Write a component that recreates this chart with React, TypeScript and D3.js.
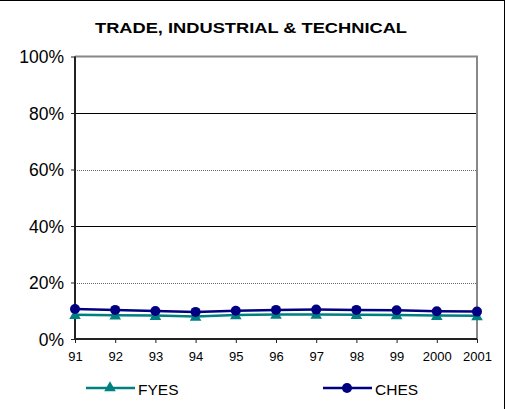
import React, { useRef, useEffect } from 'react';
import * as d3 from 'd3';

const years = ['91', '92', '93', '94', '95', '96', '97', '98', '99', '2000', '2001'];
const fyes = [8.6, 8.4, 8.3, 8.0, 8.5, 8.7, 8.7, 8.6, 8.5, 8.3, 8.2];
const ches = [10.6, 10.3, 9.9, 9.6, 10.0, 10.3, 10.4, 10.3, 10.2, 9.8, 9.7];
const yTicks = [0, 20, 40, 60, 80, 100];
const title = 'TRADE, INDUSTRIAL & TECHNICAL';

const TEAL = '#008080';
const NAVY = '#000080';

function LineChart({ width = 508, height = 409 }) {
  const ref = useRef<SVGSVGElement>(null);

  useEffect(() => {
    const svg = d3.select(ref.current);
    svg.selectAll('*').remove();

    const left = 75;
    const right = 477;
    const top = 56.5;
    const bottom = 339;
    const font = 'Arial, "Liberation Sans", sans-serif';

    const x = d3.scalePoint<string>().domain(years).range([left, right]);
    const y = d3.scaleLinear().domain([0, 100]).range([bottom, top]);

    svg.append('rect').attr('width', width).attr('height', height).attr('fill', '#fff');
    // outer frame (only top and right edge show)
    svg.append('line').attr('x1', 0).attr('x2', 504.5).attr('y1', 0.5).attr('y2', 0.5)
      .attr('stroke', '#000').attr('stroke-width', 1);
    svg.append('line').attr('x1', 504.5).attr('x2', 504.5).attr('y1', 0).attr('y2', height)
      .attr('stroke', '#000').attr('stroke-width', 1);

    // title is a bit stretched in the original
    svg.append('text')
      .attr('x', 95).attr('y', 32.5)
      .attr('textLength', 312).attr('lengthAdjust', 'spacingAndGlyphs')
      .attr('font-family', font).attr('font-weight', 'bold').attr('font-size', 15)
      .text(title);

    // gridlines, snapped to the pixel grid
    yTicks.filter((t) => t > 0 && t < 100).forEach((t) => {
      const solid = t % 40 === 0;
      const gy = Math.round(y(t)) + 0.5;
      svg.append('line')
        .attr('x1', left).attr('x2', right)
        .attr('y1', gy).attr('y2', gy)
        .attr('stroke', solid ? '#000' : '#666')
        .attr('stroke-width', 1)
        .attr('stroke-dasharray', solid ? null : '1,1');
    });

    // plot frame top/right in gray
    svg.append('path')
      .attr('d', `M${left},${top}H${right}V${bottom}`)
      .attr('fill', 'none').attr('stroke', '#888').attr('stroke-width', 2);

    // y axis
    const yAxis = svg.append('g').attr('transform', `translate(${left},0)`)
      .call(d3.axisLeft(y).tickValues(yTicks).tickSize(4).tickFormat((d) => `${d}%`));
    yAxis.select('.domain').attr('stroke', '#222').attr('stroke-width', 2).attr('d', `M0,${top}V${bottom}`);
    yAxis.selectAll('.tick line').attr('stroke', '#222');
    yAxis.selectAll('.tick text')
      .attr('font-family', font).attr('font-size', 17.5).attr('fill', '#000')
      .attr('x', -11).attr('dy', '0.36em');

    // x axis
    const xAxis = svg.append('g').attr('transform', `translate(0,${bottom})`)
      .call(d3.axisBottom(x).tickSize(4).tickSizeOuter(0));
    xAxis.select('.domain').attr('stroke', '#222').attr('stroke-width', 2).attr('d', `M${left},0H${right}`);
    xAxis.selectAll('.tick line').attr('stroke', '#222');
    xAxis.selectAll('.tick text')
      .attr('font-family', font).attr('font-size', 13).attr('fill', '#000')
      .attr('y', 13).attr('dy', '0.71em');

    const line = d3.line<number>().x((_, i) => x(years[i]) as number).y((d) => y(d));
    const tri = d3.symbol().type(d3.symbolTriangle).size(58);

    svg.append('path').datum(fyes).attr('d', line)
      .attr('fill', 'none').attr('stroke', TEAL).attr('stroke-width', 2.5);
    svg.append('g').selectAll('path').data(fyes).enter().append('path')
      .attr('d', tri)
      .attr('transform', (d, i) => `translate(${x(years[i])},${y(d) + 1})`)
      .attr('fill', TEAL);

    svg.append('path').datum(ches).attr('d', line)
      .attr('fill', 'none').attr('stroke', NAVY).attr('stroke-width', 2.5);
    svg.append('g').selectAll('circle').data(ches).enter().append('circle')
      .attr('cx', (_, i) => x(years[i]) as number)
      .attr('cy', (d) => y(d))
      .attr('r', 5)
      .attr('fill', NAVY);

    // legend
    const legend = [
      { name: 'FYES', color: TEAL, x0: 86, marker: 'tri' },
      { name: 'CHES', color: NAVY, x0: 323, marker: 'circle' },
    ];
    const ly = 388;
    legend.forEach((l) => {
      svg.append('line').attr('x1', l.x0).attr('x2', l.x0 + 49)
        .attr('y1', ly).attr('y2', ly).attr('stroke', l.color).attr('stroke-width', 2.5);
      if (l.marker === 'tri') {
        svg.append('path').attr('d', tri).attr('transform', `translate(${l.x0 + 24},${ly})`).attr('fill', l.color);
      } else {
        svg.append('circle').attr('cx', l.x0 + 24).attr('cy', ly).attr('r', 5).attr('fill', l.color);
      }
      svg.append('text').attr('x', l.x0 + 52).attr('y', ly + 7)
        .attr('font-family', font).attr('font-size', 15.5).text(l.name);
    });
  }, [width, height]);

  return <svg ref={ref} width={width} height={height} style={{ position: 'absolute', left: 0, top: 0 }}></svg>;
}

export default function App() {
  return <LineChart />;
}
